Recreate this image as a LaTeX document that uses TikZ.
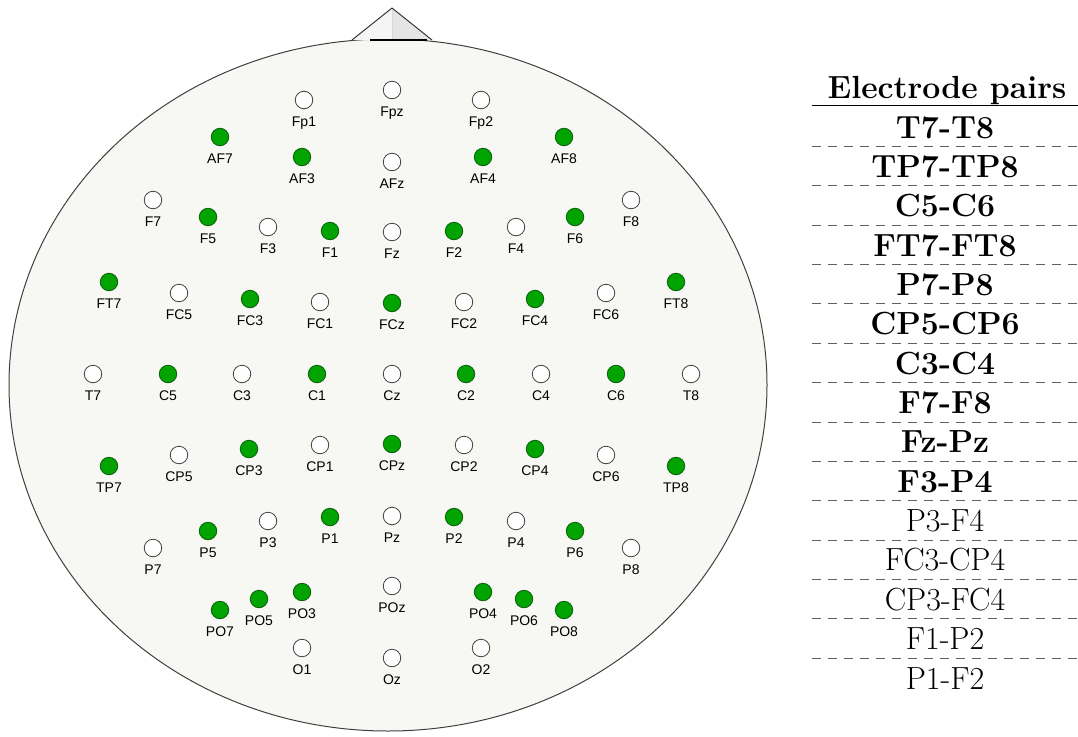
\documentclass[tikz,border=0pt]{standalone}
\usepackage{fontspec}
\newfontfamily\labfont{Liberation Sans}
\definecolor{headfill}{HTML}{F7F7F4}
\definecolor{elgreen}{HTML}{00A300}
\definecolor{elgreenline}{HTML}{0B5E0B}
\definecolor{dashgray}{HTML}{606060}
\tikzset{
  ew/.style={circle,draw=black!75,fill=white,line width=0.8pt,minimum size=17.5pt,inner sep=0pt},
  eg/.style={circle,draw=elgreenline,fill=elgreen,line width=0.8pt,minimum size=17.5pt,inner sep=0pt},
  lab/.style={anchor=base,inner sep=0pt,font=\labfont\fontsize{14}{14}\selectfont},
  rowb/.style={anchor=base,inner sep=0pt,font=\fontsize{32}{32}\selectfont\bfseries},
  rown/.style={anchor=base,inner sep=0pt,font=\fontsize{32}{32}\selectfont},
  sep/.style={draw=dashgray,line width=1pt,dash pattern=on 9pt off 7pt},
}
\newcommand\elW[3]{\node[ew] (#1) at (#2,#3) {}; \node[lab] (#1-t) at (#2,#3+26) {#1};}
\newcommand\elG[3]{\node[eg] (#1) at (#2,#3) {}; \node[lab] (#1-t) at (#2,#3+26) {#1};}
\begin{document}
\begin{tikzpicture}[x=1pt,y=-1pt]
\useasboundingbox (0,0) rectangle (1078,736);
% head
\draw[draw=black!75,line width=1pt,fill=headfill] (388,385) ellipse [x radius=379,y radius=346];
% nose
\fill[white!96!black] (352,40) -- (392,8) -- (392,40) -- cycle;
\fill[black!10] (392,8) -- (432,40) -- (392,40) -- cycle;
\draw[black!15,line width=0.5pt] (392,8) -- (392,40);
\draw[black!80,line width=1pt,line join=round] (352,40) -- (392,8) -- (432,40);
\draw[black,line width=1.6pt] (370,40) -- (427,40);
% electrodes
\elW{Fp1}{304}{100} \elW{Fpz}{392}{90} \elW{Fp2}{481}{100}
\elG{AF7}{220}{137} \elG{AF3}{302}{157} \elW{AFz}{392}{162} \elG{AF4}{483}{157} \elG{AF8}{564}{137}
\elW{F7}{153}{200} \elG{F5}{208}{217} \elW{F3}{268}{227} \elG{F1}{330}{231} \elW{Fz}{392}{232}
\elG{F2}{454}{231} \elW{F4}{516}{227} \elG{F6}{575}{217} \elW{F8}{631}{200}
\elG{FT7}{109}{282} \elW{FC5}{179}{293} \elG{FC3}{250}{299} \elW{FC1}{320}{302} \elG{FCz}{392}{303}
\elW{FC2}{464}{302} \elG{FC4}{535}{299} \elW{FC6}{606}{293} \elG{FT8}{676}{282}
\elW{T7}{93}{374} \elG{C5}{168}{374} \elW{C3}{242}{374} \elG{C1}{317}{374} \elW{Cz}{392}{374}
\elG{C2}{466}{374} \elW{C4}{541}{374} \elG{C6}{616}{374} \elW{T8}{691}{374}
\elG{TP7}{109}{466} \elW{CP5}{179}{455} \elG{CP3}{249}{449} \elW{CP1}{320}{445} \elG{CPz}{392}{444}
\elW{CP2}{464}{445} \elG{CP4}{535}{449} \elW{CP6}{606}{455} \elG{TP8}{676}{466}
\elW{P7}{153}{548} \elG{P5}{208}{531} \elW{P3}{268}{521} \elG{P1}{330}{517} \elW{Pz}{392}{516}
\elG{P2}{454}{517} \elW{P4}{516}{521} \elG{P6}{575}{531} \elW{P8}{631}{548}
\elG{PO7}{220}{610} \elG{PO5}{259}{599} \elG{PO3}{302}{592} \elW{POz}{392}{586}
\elG{PO4}{483}{592} \elG{PO6}{524}{599} \elG{PO8}{564}{610}
\elW{O1}{302}{648} \elW{Oz}{392}{658} \elW{O2}{481}{648}
% table
\node[rowb] (hdr) at (947,98) {Electrode pairs};
\draw[black,line width=1.4pt] (812,105.5) -- (1078,105.5);
\foreach \t [count=\i from 0] in {T7-T8,TP7-TP8,C5-C6,FT7-FT8,P7-P8,CP5-CP6,C3-C4,F7-F8,Fz-Pz,F3-P4}
  \node[rowb] (row\i) at (945,138+39.36*\i) {\t};
\foreach \t [count=\i from 10] in {P3-F4,FC3-CP4,CP3-FC4,F1-P2,P1-F2}
  \node[rown] (row\i) at (945,138+39.36*\i) {\t};
\foreach \i in {0,...,13}
  \draw[sep] (812,146.5+39.36*\i) -- (1078,146.5+39.36*\i);
\end{tikzpicture}
\end{document}
